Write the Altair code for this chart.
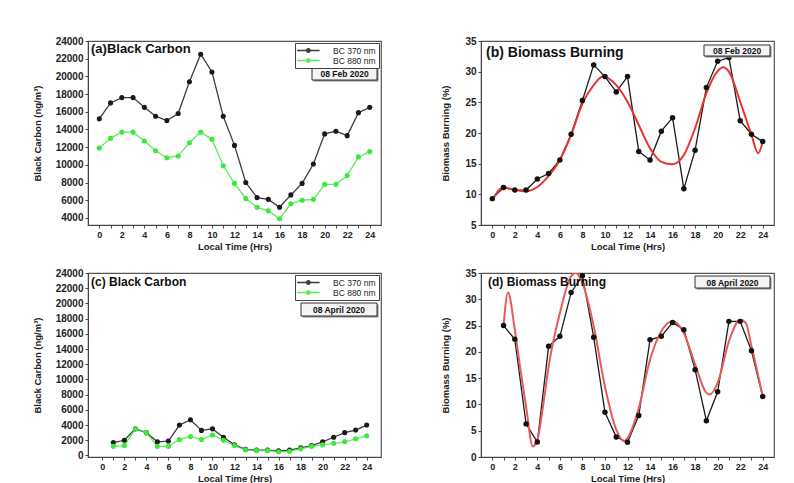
import altair as alt
import pandas as pd

# ---------------- data ----------------
hours_feb = list(range(0, 25))
bc370_feb = [15200, 17000, 17600, 17600, 16500, 15500, 15000, 15800, 19400, 22500, 20500, 15500,
             12200, 8000, 6300, 6100, 5200, 6600, 7900, 10100, 13500, 13800, 13300, 15900, 16500]
bc880_feb = [11900, 13000, 13700, 13700, 12700, 11600, 10800, 11000, 12500, 13700, 12900, 9900,
             7900, 6200, 5200, 4800, 3900, 5600, 6000, 6100, 7800, 7800, 8800, 10900, 11500]

bb_feb = [9.3, 11.1, 10.7, 10.7, 12.5, 13.4, 15.6, 19.8, 25.3, 31.1, 29.2, 26.7, 29.2, 17.0,
          15.6, 20.3, 22.5, 10.9, 17.2, 27.4, 31.7, 32.3, 22.0, 19.8, 18.6]
fit_feb_x = [0, 1, 2, 3, 4, 5, 6, 7, 8, 9, 9.8, 11, 12, 13, 14, 15, 16, 17, 18, 19, 20, 20.5,
             21, 22, 23, 23.6, 24]
fit_feb_y = [9.1, 11.1, 10.7, 10.5, 11.2, 13.0, 15.6, 19.7, 24.8, 27.8, 29.2, 27.8, 25.1, 21.3,
             17.5, 15.3, 14.9, 16.4, 20.8, 26.5, 30.1, 30.7, 30.0, 25.1, 19.7, 16.7, 18.6]

hours_apr = list(range(1, 25))
bc370_apr = [1700, 2000, 3500, 3000, 1800, 1900, 4000, 4700, 3300, 3500, 2400, 1400, 800, 700,
             700, 600, 700, 1000, 1300, 1800, 2400, 3000, 3350, 4000]
bc880_apr = [1200, 1300, 3500, 3000, 1200, 1200, 2100, 2500, 2100, 2700, 2000, 1300, 740, 650,
             650, 500, 550, 870, 1200, 1400, 1600, 1800, 2200, 2600]

bb_apr = [25.0, 22.4, 6.3, 2.85, 21.05, 22.95, 31.3, 34.5, 22.8, 8.5, 3.8, 2.8, 7.9, 22.3,
          22.95, 25.6, 24.2, 16.6, 6.9, 12.4, 25.8, 25.8, 20.2, 11.5]
fit_apr_x = [1, 1.4, 2, 2.5, 3, 3.6, 4, 4.5, 5, 6, 7, 7.4, 8, 9, 10, 11, 11.7, 12, 13, 14, 15,
             16, 17, 18, 19, 19.3, 20, 21, 22, 22.5, 23, 24]
fit_apr_y = [25.0, 31.3, 24.2, 16.6, 9.6, 2.0, 3.3, 9.6, 17.2, 27.4, 34.4, 35.0, 33.1, 24.9,
             13.4, 5.2, 3.0, 3.6, 9.3, 18.5, 23.9, 25.8, 23.6, 17.6, 12.2, 11.9, 14.1, 22.0,
             26.1, 25.5, 21.1, 11.5]

series_names = ["BC 370 nm", "BC 880 nm"]
series_colors = ["#1a1a1a", "#3de83d"]
hour_ticks = list(range(0, 25))

FONT = "Liberation Sans"
W, H = 293, 184
AXC = "#444444"


def x_axis():
    return alt.Axis(values=hour_ticks, labelExpr="datum.value % 2 == 0 ? datum.label : ''",
                    title="Local Time (Hrs)", grid=False, tickSize=3, labelFontSize=9,
                    titleFontSize=9.5, labelFontWeight="bold", titleFontWeight="bold",
                    labelPadding=2, titlePadding=2, domainColor=AXC, tickColor=AXC,
                    labelColor="#222", titleColor="#222", labelFont=FONT, titleFont=FONT)


def y_axis(title, values, pad):
    return alt.Axis(values=values, title=title, grid=False, tickSize=3, labelFontSize=10,
                    titleFontSize=9.5, labelFontWeight="bold", titleFontWeight="bold",
                    labelPadding=2, titlePadding=pad, domainColor=AXC, tickColor=AXC,
                    labelColor="#222", titleColor="#222", labelFont=FONT, titleFont=FONT,
                    format="d")


one = pd.DataFrame({"k": [0]})


def date_box(text, x0, x1, y0, y1):
    shadow = alt.Chart(one).mark_rect(fill="#888888").encode(
        x=alt.value(x0 + 1.5), x2=alt.value(x1 + 1.5), y=alt.value(y0 + 1.5), y2=alt.value(y1 + 1.5))
    box = alt.Chart(one).mark_rect(fill="#f4f4f4", stroke="#333333", strokeWidth=1).encode(
        x=alt.value(x0), x2=alt.value(x1), y=alt.value(y0), y2=alt.value(y1))
    txt = alt.Chart(one).mark_text(font=FONT, fontSize=8.5, fontWeight="bold", color="#111",
                                   align="center", baseline="middle").encode(
        x=alt.value((x0 + x1) / 2), y=alt.value((y0 + y1) / 2 + 0.5), text=alt.value(text))
    return [shadow, box, txt]


def panel_title(text, x, y, size):
    return alt.Chart(one).mark_text(font=FONT, fontSize=size, fontWeight="bold", color="#111",
                                    align="left", baseline="middle").encode(
        x=alt.value(x), y=alt.value(y), text=alt.value(text))


# line with a dot, drawn as filled sub-paths (unit = half the symbol size)
LEGEND_PATH = ("M-1.2,-0.14L3.8,-0.14L3.8,0.14L-1.2,0.14Z"
               "M1.85,0A0.55,0.55,0,1,1,0.75,0A0.55,0.55,0,1,1,1.85,0Z")


def bc_panel(hours, s370, s880, xdom, ydom, title, tsize, tx, ty, date, dbox):
    df = pd.DataFrame({
        "hour": hours + hours,
        "value": s370 + s880,
        "series": [series_names[0]] * len(hours) + [series_names[1]] * len(hours),
    })
    color = alt.Color("series:N", scale=alt.Scale(domain=series_names, range=series_colors),
                      legend=alt.Legend(title=None, orient="top-right", offset=2,
                                        strokeColor="#444", fillColor="white", padding=3,
                                        rowPadding=1, labelFontSize=8.5, labelFont=FONT,
                                        labelColor="#222", symbolType=LEGEND_PATH,
                                        symbolSize=81, symbolStrokeWidth=0, labelOffset=26,
                                        cornerRadius=0))
    x = alt.X("hour:Q", scale=alt.Scale(domain=xdom, nice=False, zero=False), axis=x_axis())
    y = alt.Y("value:Q", scale=alt.Scale(domain=ydom, nice=False, zero=False),
              axis=y_axis("Black Carbon (ng/m³)", list(range(0, 24001, 2000)), 13))
    base = alt.Chart(df).encode(x=x, y=y, color=color)
    line = base.mark_line(strokeWidth=1.3, opacity=0.85)
    pts = base.mark_point(filled=True, size=26, opacity=1)
    layers = [line, pts, panel_title(title, tx, ty, tsize)] + date_box(date, *dbox)
    return alt.layer(*layers).properties(width=W, height=H)


def bb_panel(hours, vals, fx, fy, xdom, ydom, yvals, title, tsize, tx, ty, date, dbox, red):
    df = pd.DataFrame({"hour": hours, "value": vals})
    dff = pd.DataFrame({"hour": fx, "value": fy})
    x = alt.X("hour:Q", scale=alt.Scale(domain=xdom, nice=False, zero=False), axis=x_axis())
    y = alt.Y("value:Q", scale=alt.Scale(domain=ydom, nice=False, zero=False),
              axis=y_axis("Biomass Burning (%)", yvals, 14))
    line = alt.Chart(df).mark_line(color="#1a1a1a", strokeWidth=1.3).encode(x=x, y=y)
    pts = alt.Chart(df).mark_point(filled=True, color="#111", size=30, opacity=1).encode(x=x, y=y)
    fit = alt.Chart(dff).mark_line(color=red, strokeWidth=2, interpolate="monotone",
                                   clip=True).encode(x=x, y=y)
    layers = [line, fit, pts, panel_title(title, tx, ty, tsize)] + date_box(date, *dbox)
    return alt.layer(*layers).properties(width=W, height=H)


a = bc_panel(hours_feb, bc370_feb, bc880_feb, [-1, 25], [3200, 24000], "(a)Black Carbon", 13,
             3, 8, "08 Feb 2020", (224, 289, 26, 39))
b = bb_panel(hours_feb, bb_feb, fit_feb_x, fit_feb_y, [-1, 25], [5, 35], list(range(5, 36, 5)),
             "(b) Biomass Burning", 14, 5, 12, "08 Feb 2020", (223, 289, 4, 15), "#e8332f")
c = bc_panel(hours_apr, bc370_apr, bc880_apr, [-1.3, 25.3], [-200, 24000], "(c) Black Carbon",
             12, 3, 9, "08 April 2020", (213, 289, 30, 43))
d = bb_panel(hours_apr, bb_apr, fit_apr_x, fit_apr_y, [-1, 25], [0, 35], list(range(0, 36, 5)),
             "(d) Biomass Burning", 12, 7, 9, "08 April 2020", (214, 289, 3, 15), "#e85a5a")

chart = alt.concat(a, b, c, d, columns=2, spacing={"row": 48, "column": 100},
                   bounds="flush").properties(
    padding={"left": 23, "top": 27, "right": 5, "bottom": 0},
    background="white",
).configure_view(stroke="#555555", strokeWidth=1.2).resolve_scale(color="independent")

chart.save("out.html", embed_options={"renderer": "svg", "actions": False})
